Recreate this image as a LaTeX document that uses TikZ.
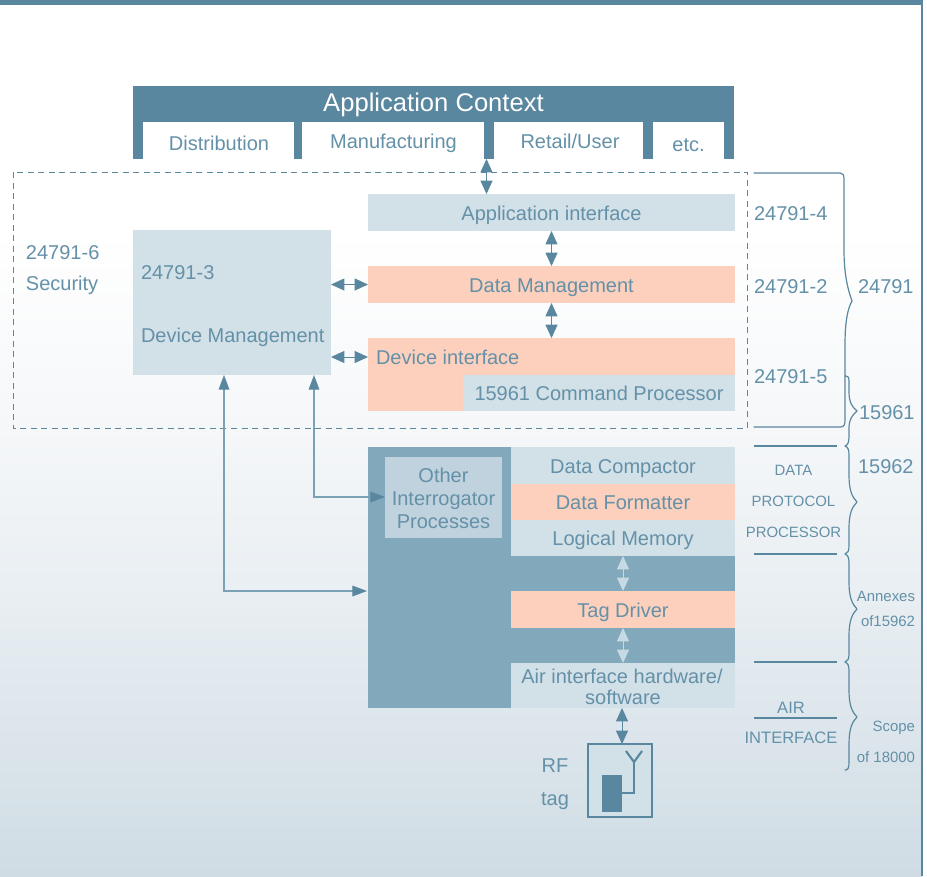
\documentclass[tikz,border=0pt]{standalone}
\usepackage{fontspec}
\setmainfont{Liberation Sans}
\usetikzlibrary{arrows.meta}
\definecolor{steel}{HTML}{5A87A0}
\definecolor{inktxt}{HTML}{6491A8}
\definecolor{midblue}{HTML}{82A8BB}
\definecolor{paleblue}{HTML}{D2E0E8}
\definecolor{otherblue}{HTML}{BFD2DE}
\definecolor{peach}{HTML}{FCD0BC}
\definecolor{arrowpale}{HTML}{C6DAE3}
\definecolor{shaftblue}{HTML}{7BA1B5}
\definecolor{bgone}{HTML}{F5F7F9}
\definecolor{bgtwo}{HTML}{E8EEF2}
\definecolor{bgthree}{HTML}{CFDCE4}
\newcommand{\pxbox}[7]{%
  \pgfmathsetlengthmacro{\bw}{(#4-#2)*0.75pt}%
  \pgfmathsetlengthmacro{\bh}{(#5-#3)*0.75pt}%
  \pgfmathsetmacro{\bx}{(#2+#4)/2}%
  \pgfmathsetmacro{\by}{(#3+#5)/2}%
  \node[#6,minimum width=\bw,minimum height=\bh] (#1) at (\bx,\by) {#7};}
\tikzset{
  x=0.75pt,y=-0.75pt,
  every node/.style={inner sep=0pt,outer sep=0pt},
  txt/.style={text=inktxt,font=\fontsize{15}{18}\selectfont,text height=12.7pt,text depth=1.1pt},
  smalltxt/.style={text=inktxt,font=\fontsize{11.2}{13}\selectfont,text height=9.5pt,text depth=0.7pt},
  midtxt/.style={text=inktxt,font=\fontsize{12.4}{15}\selectfont,text height=10.5pt,text depth=1pt},
  pale/.style={txt,fill=paleblue},
  warm/.style={txt,fill=peach},
  tab/.style={txt,fill=white},
  dbl/.style={{Triangle[length=10pt,width=9pt,fill=steel,color=steel]}-{Triangle[length=10pt,width=9pt,fill=steel,color=steel]},draw=steel,line width=0.7pt},
  dblpale/.style={{Triangle[length=10pt,width=9pt,fill=arrowpale,color=arrowpale]}-{Triangle[length=10pt,width=9pt,fill=arrowpale,color=arrowpale]},draw=arrowpale,line width=0.7pt},
  elbow/.style={{Triangle[length=11pt,width=8pt,fill=steel,color=steel]}-{Triangle[length=11pt,width=8pt,fill=steel,color=steel]},draw=shaftblue,line width=0.9pt},
  bracket/.style={draw=steel,line width=0.9pt,line cap=round,line join=round},
  rule/.style={draw=steel,line width=0.8pt},
}
\begin{document}
\begin{tikzpicture}
\useasboundingbox (0,0) rectangle (927,876);
\fill[white] (0,0) rectangle (927,876);
\shade[top color=white,bottom color=bgone] (0,230) rectangle (922,430);
\shade[top color=bgone,bottom color=bgtwo] (0,430) rectangle (922,600);
\shade[top color=bgtwo,bottom color=bgthree] (0,600) rectangle (922,876);
\fill[steel] (0,0) rectangle (923,5);
\draw[steel,line width=0.9pt] (922,0) -- (922,876);

% application context
\pxbox{context}{133}{86}{734}{159}{fill=steel}{}
\node[text=white,font=\fontsize{19.2}{23}\selectfont,text height=14.9pt,text depth=2.2pt] (ctxlabel) at (433.5,103) {Application Context};
\pxbox{dist}{143}{122}{294}{159}{tab}{}
\pxbox{manu}{302}{122}{484}{159}{tab}{}
\pxbox{retail}{494}{122}{643}{159}{tab}{}
\pxbox{etc}{653}{122}{724}{159}{tab}{}
\node[txt] (distl) at (219,143) {Distribution};
\node[txt] (manul) at (393.5,141) {Manufacturing};
\node[txt] (retaill) at (570,141) {Retail/User};
\node[txt] (etcl) at (688.5,144) {etc.};

% dashed frame
\draw[draw=steel,line width=0.65pt,dash pattern=on 4.5pt off 3.4pt] (13,172) rectangle (747,428);

% upper stack
\pxbox{appif}{368}{194}{735}{231}{pale}{Application interface}
\pxbox{datam}{368}{266}{735}{303}{warm}{Data Management}
\pxbox{devif}{368}{338}{735}{411}{warm}{}
\pxbox{cmdp}{463}{375}{735}{411}{pale}{15961 Command Processor}
\node[txt,anchor=west] (devifl) at (376,357) {Device interface};
\pxbox{devm}{133}{230}{331}{375}{fill=paleblue}{}
\node[txt,anchor=west] (devnum) at (141,272) {24791-3};
\node[txt,anchor=west] (devname) at (141,335) {Device Management};
\node[txt,anchor=west] (secnum) at (26,252) {24791-6};
\node[txt,anchor=west] (secname) at (26,283) {Security};

% processor block
\pxbox{proc}{368}{447}{735}{708}{fill=midblue}{}
\pxbox{compact}{511}{447}{735}{484}{pale}{Data Compactor}
\pxbox{format}{511}{484}{735}{520}{warm}{Data Formatter}
\pxbox{logical}{511}{520}{735}{556}{pale}{Logical Memory}
\pxbox{driver}{511}{591}{735}{628}{warm}{Tag Driver}
\pxbox{air}{511}{663}{735}{708}{pale}{}
\node[txt] (airl1) at (622,676) {Air interface hardware/};
\node[txt] (airl2) at (623,697) {software};
\pxbox{other}{385}{457}{502}{538}{fill=otherblue}{}
\node[txt] (oth1) at (443.5,475) {Other};
\node[txt] (oth2) at (443.5,498) {Interrogator};
\node[txt] (oth3) at (443.5,521) {Processes};

% tag
\pxbox{tagbox}{588}{744}{652}{817}{fill=paleblue,draw=steel,line width=0.9pt}{}
\pxbox{chip}{602}{775}{622}{812}{fill=steel}{}
\coordinate (antfoot) at (634,793);
\coordinate (antneck) at (634,762);
\coordinate (antl) at (626,751);
\coordinate (antr) at (642,751);
\draw[steel,line width=1.6pt] (chip.east |- antfoot) -- (antfoot) -- (antneck);
\draw[steel,line width=1.6pt] (antl) -- (antneck) -- (antr);
\node[txt] (rf) at (555,765) {RF};
\node[txt] (tagl) at (555,798) {tag};

% connectors
\coordinate (gapctx) at (486.5,159);
\draw[dbl] (gapctx) -- (appif.north -| gapctx);
\draw[dbl] (appif.south) -- (datam.north);
\draw[dbl] (datam.south) -- (datam.south |- devif.north);
\draw[dbl] (devm.east |- datam.center) -- (datam.west);
\draw[dbl] (devm.east |- devifl.center) -- (devif.west |- devifl.center);
\draw[dblpale] (logical.south) -- (driver.north);
\draw[dblpale] (driver.south) -- (driver.south |- air.north);
\coordinate (airdrop) at (622,708);
\draw[dbl] (airdrop) -- (airdrop |- tagbox.north);
\coordinate (elbowa) at (314,375);
\coordinate (elbowb) at (224,375);
\coordinate (elbowaend) at (385,497);
\coordinate (elbowbend) at (367,591);
\draw[elbow] (elbowa) |- (elbowaend);
\draw[elbow] (elbowb) |- (elbowbend);

% right column labels
\node[txt,anchor=west] (n4) at (754,213) {24791-4};
\node[txt,anchor=west] (n2) at (754,286) {24791-2};
\node[txt,anchor=west] (n5) at (754,376) {24791-5};
\node[txt,anchor=west] (n24791) at (858,286) {24791};
\node[txt,anchor=west] (n15961) at (859,412) {15961};
\node[txt,anchor=west] (n15962) at (858,466) {15962};
\node[smalltxt] (dp1) at (793.5,470) {DATA};
\node[smalltxt] (dp2) at (793.5,501) {PROTOCOL};
\node[smalltxt] (dp3) at (793.5,532) {PROCESSOR};
\node[midtxt] (air1) at (791,707) {AIR};
\node[midtxt] (air2) at (791,737) {INTERFACE};
\node[smalltxt,anchor=east] (ann1) at (915,596) {Annexes};
\node[smalltxt,anchor=east] (ann2) at (915,621) {of15962};
\node[smalltxt,anchor=east] (sc1) at (915,726) {Scope};
\node[smalltxt,anchor=east] (sc2) at (915,757) {of 18000};

% rules and braces
\draw[rule] (754,446) -- (837,446);
\draw[rule] (754,554) -- (837,554);
\draw[rule] (754,662) -- (837,662);
\draw[rule] (754,718) -- (837,718);
\draw[bracket] (754,173) -- (840,173) .. controls (843,173) and (844,175) .. (844,179)
  -- (844,250) .. controls (844,275) and (848,290) .. (852,301)
  .. controls (848,308) and (845,320) .. (845,345) -- (845,420)
  .. controls (845,425) and (844,427) .. (840,427) -- (754,427);
\draw[bracket] (845,376) -- (846,376) .. controls (848,376) and (849,377) .. (849,382)
  -- (849,392) .. controls (849,402) and (852,407) .. (857,411)
  .. controls (852,415) and (849,420) .. (849,428) -- (849,436)
  .. controls (849,442) and (848,445) .. (845,446)
  .. controls (848,447) and (849,450) .. (849,455) -- (849,475)
  .. controls (849,490) and (852,497) .. (857,502)
  .. controls (852,507) and (849,514) .. (849,528) -- (849,545)
  .. controls (849,551) and (848,553) .. (845,554)
  .. controls (848,555) and (849,558) .. (849,563) -- (849,582)
  .. controls (849,597) and (852,604) .. (857,609)
  .. controls (852,614) and (849,621) .. (849,636) -- (849,653)
  .. controls (849,659) and (848,661) .. (845,662)
  .. controls (848,663) and (849,666) .. (849,671) -- (849,690)
  .. controls (849,705) and (852,712) .. (857,717)
  .. controls (852,722) and (849,729) .. (849,744) -- (849,762)
  .. controls (849,768) and (848,770) .. (845,770);
\end{tikzpicture}
\end{document}
